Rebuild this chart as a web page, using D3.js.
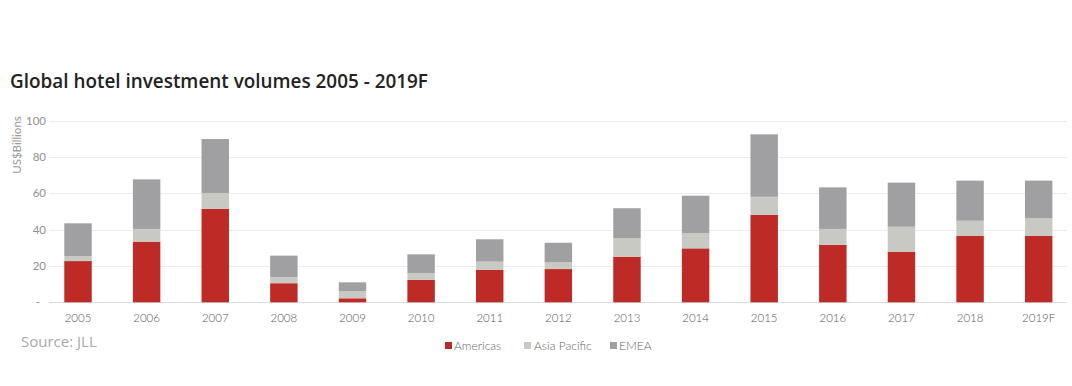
<!DOCTYPE html>
<html>
<head>
<meta charset="utf-8">
<script src="https://cdn.jsdelivr.net/npm/d3@7"></script>
<style>
  html, body { margin: 0; padding: 0; background: #fff; }
  svg { display: block; }
</style>
</head>
<body>
<svg id="chart" width="1072" height="386"></svg>
<script>
const years = ["2005","2006","2007","2008","2009","2010","2011","2012","2013","2014","2015","2016","2017","2018","2019F"];
const americas    = [22.7, 33.4, 51.4, 10.5, 2.2, 12.3, 17.8, 18.3, 25.1, 29.7, 48.1, 31.6, 27.7, 36.5, 36.5];
const asiaPacific = [2.8, 7.0, 8.8, 3.4, 4.0, 3.7, 4.6, 3.7, 10.1, 8.3, 10.0, 8.8, 13.9, 8.4, 9.7];
const emea        = [18.0, 27.3, 29.7, 11.8, 4.8, 10.4, 12.3, 10.8, 16.6, 20.7, 34.4, 22.9, 24.3, 22.1, 20.8];
const seriesNames = ["Americas", "Asia Pacific", "EMEA"];
const yTicks = [0, 20, 40, 60, 80, 100];

const colors = {"Americas": "#be2a25", "Asia Pacific": "#c9c9c3", "EMEA": "#a0a0a3"};

const svg = d3.select("#chart");
const fontFamily = "Lato, 'Open Sans', sans-serif";

const table = years.map((y, i) => ({year: y, "Americas": americas[i], "Asia Pacific": asiaPacific[i], "EMEA": emea[i]}));
const stacked = d3.stack().keys(seriesNames)(table);

const x = d3.scaleBand().domain(years).range([43.7, 1073]).paddingInner(0.6).paddingOuter(0.3);
const y = d3.scaleLinear().domain([0, 100]).range([302.3, 120.7]);

// title
svg.append("text")
  .attr("x", 10).attr("y", 88)
  .attr("font-family", "'Open Sans', sans-serif")
  .attr("font-weight", 600)
  .attr("font-size", 18.9)
  .attr("fill", "#222")
  .text("Global hotel investment volumes 2005 - 2019F");

// gridlines
svg.append("g").selectAll("line").data(yTicks).join("line")
  .attr("x1", 49).attr("x2", 1067)
  .attr("y1", d => Math.round(y(d)) + 0.5).attr("y2", d => Math.round(y(d)) + 0.5)
  .attr("stroke", d => d === 0 ? "#dcdcdc" : "#ececec")
  .attr("stroke-width", 1);

// y axis labels
svg.append("g").selectAll("text").data(yTicks).join("text")
  .attr("x", d => d === 0 ? 40 : 46)
  .attr("y", d => y(d) + 4)
  .attr("text-anchor", "end")
  .attr("font-family", fontFamily)
  .attr("font-size", 11.5)
  .attr("fill", "#909090")
  .text(d => d === 0 ? "-" : d);

svg.append("text")
  .attr("transform", "translate(21,145) rotate(-90)")
  .attr("text-anchor", "middle")
  .attr("font-family", fontFamily)
  .attr("font-size", 11.5)
  .attr("fill", "#9a9a9a")
  .text("US$Billions");

// bars
svg.append("g").selectAll("g").data(stacked).join("g")
  .attr("fill", d => colors[d.key])
  .selectAll("rect").data(d => d).join("rect")
  .attr("x", d => x(d.data.year))
  .attr("width", x.bandwidth())
  .attr("y", d => y(d[1]))
  .attr("height", d => y(d[0]) - y(d[1]));

// x labels
svg.append("g").selectAll("text").data(years).join("text")
  .attr("x", d => x(d) + x.bandwidth() / 2)
  .attr("y", 322)
  .attr("text-anchor", "middle")
  .attr("font-family", fontFamily)
  .attr("font-weight", 300)
  .attr("font-size", 11.5)
  .attr("fill", "#555")
  .text(d => d);

// source
svg.append("text")
  .attr("x", 21).attr("y", 347)
  .attr("font-family", "'Open Sans', sans-serif")
  .attr("font-size", 15)
  .attr("fill", "#a8a8a8")
  .text("Source: JLL");

// legend
const legendX = [445, 524, 610];
const lg = svg.append("g").selectAll("g").data(seriesNames).join("g")
  .attr("transform", (d, i) => `translate(${legendX[i]},0)`);
lg.append("rect")
  .attr("x", 0).attr("y", 342).attr("width", 7).attr("height", 7)
  .attr("fill", d => colors[d]);
lg.append("text")
  .attr("x", (d, i) => i === 1 ? 10 : 9).attr("y", 349.5)
  .attr("font-family", fontFamily)
  .attr("font-weight", 300)
  .attr("font-size", 12)
  .attr("fill", "#666")
  .text(d => d);
</script>
</body>
</html>
